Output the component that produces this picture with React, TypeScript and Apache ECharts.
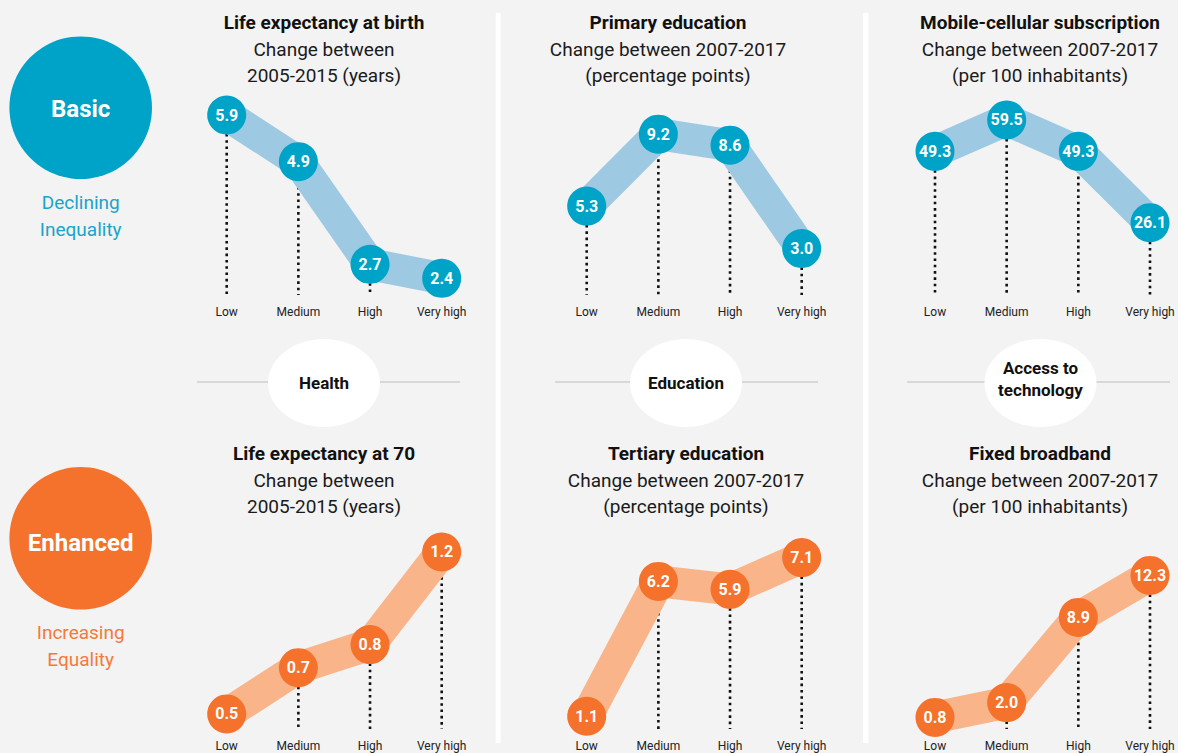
import React, { useEffect, useRef } from "react";
import * as echarts from "echarts";

const categories = ["Low", "Medium", "High", "Very high"];

const lifeAtBirth = [5.9, 4.9, 2.7, 2.4];
const primaryEducation = [5.3, 9.2, 8.6, 3.0];
const mobileCellular = [49.3, 59.5, 49.3, 26.1];
const lifeAt70 = [0.5, 0.7, 0.8, 1.2];
const tertiaryEducation = [1.1, 6.2, 5.9, 7.1];
const fixedBroadband = [0.8, 2.0, 8.9, 12.3];

const titles = [
  ["Life expectancy at birth", "Change between", "2005-2015 (years)"],
  ["Primary education", "Change between 2007-2017", "(percentage points)"],
  ["Mobile-cellular subscription", "Change between 2007-2017", "(per 100 inhabitants)"],
  ["Life expectancy at 70", "Change between", "2005-2015 (years)"],
  ["Tertiary education", "Change between 2007-2017", "(percentage points)"],
  ["Fixed broadband", "Change between 2007-2017", "(per 100 inhabitants)"],
];

const groupLabels = ["Health", "Education", "Access to\ntechnology"];

const FONT = "Roboto, 'Noto Sans', sans-serif";
const BLUE = "#00a3c8";
const BLUE_LIGHT = "#9dcae2";
const ORANGE = "#f4722b";
const ORANGE_LIGHT = "#f9b489";

const panels = [
  { data: lifeAtBirth, row: 0, col: 0, min: 2.041, max: 6.222, tx: 324 },
  { data: primaryEducation, row: 0, col: 1, min: 0.482, max: 11.05, tx: 668 },
  { data: mobileCellular, row: 0, col: 2, min: 2.585, max: 66.0, tx: 1040 },
  { data: lifeAt70, row: 1, col: 0, min: 0.435, max: 1.295, tx: 324 },
  { data: tertiaryEducation, row: 1, col: 1, min: 0.617, max: 8.143, tx: 686 },
  { data: fixedBroadband, row: 1, col: 2, min: -0.138, max: 15.98, tx: 1040 },
];

const colLeft = [226.7, 586.7, 935];
const rowTop = [100, 530];
const rowBottom = [295, 729];
const titleY = [
  [22, 49, 75],
  [453, 480, 506],
];

function txt(x: number, y: number, text: string, size: number, weight: string, fill: string, lineHeight?: number) {
  return {
    type: "text",
    x,
    y,
    silent: true,
    style: {
      text,
      fill,
      fontSize: size,
      fontWeight: weight,
      fontFamily: FONT,
      lineHeight: lineHeight || size * 1.2,
      align: "center",
      verticalAlign: "middle",
      textAlign: "center",
      textVerticalAlign: "middle",
    },
  };
}

export default function App() {
  const ref = useRef<HTMLDivElement>(null);

  useEffect(() => {
    if (!ref.current) return;
    const chart = echarts.init(ref.current, undefined, { renderer: "svg" });

    const grid: any[] = [];
    const xAxis: any[] = [];
    const yAxis: any[] = [];
    const series: any[] = [];
    const graphic: any[] = [];

    panels.forEach((p, i) => {
      const top = rowTop[p.row];
      const bottom = rowBottom[p.row];
      grid.push({ left: colLeft[p.col], top, width: 215, height: bottom - top, containLabel: false });
      xAxis.push({
        type: "category",
        gridIndex: i,
        data: categories,
        boundaryGap: false,
        axisLine: { show: false },
        axisTick: { show: false },
        splitLine: { show: false },
        axisLabel: { show: true, margin: 11, color: "#222", fontSize: 12, fontFamily: FONT, interval: 0 },
      });
      yAxis.push({ type: "value", gridIndex: i, min: p.min, max: p.max, show: false });
      const dark = p.row === 0 ? BLUE : ORANGE;
      const light = p.row === 0 ? BLUE_LIGHT : ORANGE_LIGHT;
      const yMin = p.min;
      series.push({
        type: "custom",
        xAxisIndex: i,
        yAxisIndex: i,
        data: p.data.map((v, k) => [k, v]),
        silent: true,
        clip: false,
        z: 1,
        renderItem: (_params: any, api: any) => {
          const a = api.coord([api.value(0), api.value(1)]);
          const b = api.coord([api.value(0), yMin]);
          return {
            type: "line",
            shape: { x1: a[0], y1: a[1], x2: b[0], y2: b[1] },
            style: { stroke: "#111", lineWidth: 2.6, lineDash: [2.6, 3.7], fill: null },
          };
        },
      });
      series.push({
        type: "line",
        xAxisIndex: i,
        yAxisIndex: i,
        data: p.data,
        symbol: "none",
        silent: true,
        clip: false,
        z: 2,
        lineStyle: { width: 32, color: light, join: "round", cap: "butt" },
      });
      series.push({
        type: "scatter",
        xAxisIndex: i,
        yAxisIndex: i,
        data: p.data,
        symbol: "circle",
        symbolSize: 39,
        silent: true,
        clip: false,
        z: 3,
        itemStyle: { color: dark, opacity: 1 },
        label: {
          show: true,
          position: "inside",
          formatter: (d: any) => Number(d.value).toFixed(1),
          color: "#fff",
          fontWeight: "bold",
          fontSize: 16,
          fontFamily: FONT,
        },
      });
      const t = titles[i];
      const ty = titleY[p.row];
      graphic.push(txt(p.tx, ty[0], t[0], 19, "bold", "#111"));
      graphic.push(txt(p.tx, ty[1], t[1], 19, "normal", "#1a1a1a"));
      graphic.push(txt(p.tx, ty[2], t[2], 19, "normal", "#1a1a1a"));
    });

    // white column dividers
    graphic.push({ type: "rect", silent: true, shape: { x: 495.7, y: 13, width: 5, height: 730 }, style: { fill: "#ffffff" } });
    graphic.push({ type: "rect", silent: true, shape: { x: 863, y: 13, width: 5.5, height: 730 }, style: { fill: "#ffffff" } });

    // group separators
    const sepCx = [324, 686, 1040.5];
    const sepL = [197, 555, 907];
    const sepR = [460, 818, 1170];
    sepCx.forEach((cx, k) => {
      graphic.push({ type: "line", silent: true, shape: { x1: sepL[k], y1: 382, x2: sepR[k], y2: 382 }, style: { stroke: "#d8d8d8", lineWidth: 2 } });
      graphic.push({ type: "ellipse", silent: true, shape: { cx, cy: 383, rx: 56, ry: 44 }, style: { fill: "#ffffff" } });
      graphic.push(txt(cx, k === 2 ? 379 : 383, groupLabels[k], 17, "bold", "#111", 22));
    });

    // left legend circles
    graphic.push({ type: "circle", silent: true, shape: { cx: 80.7, cy: 107.7, r: 71.3 }, style: { fill: BLUE } });
    graphic.push(txt(80.7, 109, "Basic", 24, "bold", "#ffffff"));
    graphic.push(txt(80.7, 216, "Declining\nInequality", 19, "normal", "#1aa3cb", 27));
    graphic.push({ type: "circle", silent: true, shape: { cx: 80.7, cy: 538.3, r: 71.3 }, style: { fill: ORANGE } });
    graphic.push(txt(80.7, 543, "Enhanced", 24, "bold", "#ffffff"));
    graphic.push(txt(80.7, 646, "Increasing\nEquality", 19, "normal", "#f47a3a", 27));

    chart.setOption({
      animation: false,
      backgroundColor: "#f3f3f3",
      textStyle: { fontFamily: FONT },
      grid,
      xAxis,
      yAxis,
      series,
      graphic: { elements: graphic },
    });

    return () => chart.dispose();
  }, []);

  return (
    <div
      ref={ref}
      style={{ position: "fixed", left: 0, top: 0, width: 1178, height: 753 }}
    />
  );
}
